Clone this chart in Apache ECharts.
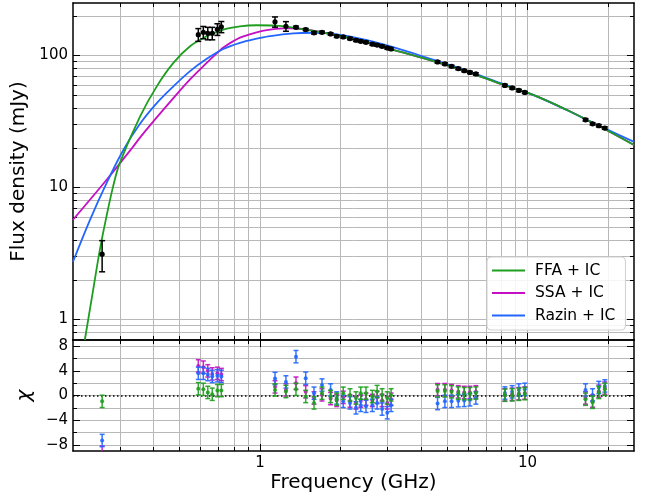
<!DOCTYPE html>
<html><head><meta charset="utf-8">
<script src="https://cdn.jsdelivr.net/npm/echarts@6/dist/echarts.min.js"></script>
<style>html,body{margin:0;padding:0;background:#fff}#c{width:645px;height:500px}</style>
</head><body><div id="c"></div>
<script>
// ---------- data ----------
const obsFreq = [0.257,
  0.588, 0.614, 0.638, 0.663, 0.693, 0.717,
  1.138, 1.25, 1.363, 1.482, 1.592, 1.705, 1.836, 1.935, 2.047, 2.17, 2.284, 2.38, 2.49, 2.63, 2.74, 2.86, 2.99, 3.09,
  4.61, 4.91, 5.20, 5.51, 5.80, 6.09, 6.41,
  8.23, 8.76, 9.28, 9.77,
  16.47, 17.5, 18.47, 19.45];
const obsFlux = [3.13,
  144, 150, 147.5, 147.5, 158, 165,
  180, 166.6, 163.7, 157.3, 148.5, 150, 145.9, 140, 138.4, 134.4, 130.5, 128.2, 126, 122, 120, 117.5, 114.2, 112.2,
  89.4, 86.4, 82.8, 79.6, 76.8, 74.5, 72.5,
  59.4, 56.8, 54.4, 52.5,
  32.6, 30.4, 29.4, 28.2];
const obsErr = [0.83,
  16, 16, 16, 16, 16, 16,
  16, 14, 3.3, 3.1, 3.0, 3.0, 2.9, 2.8, 2.8, 2.7, 2.6, 2.6, 2.5, 2.4, 2.4, 2.4, 2.3, 2.2,
  1.8, 1.7, 1.7, 1.6, 1.5, 1.5, 1.5,
  1.2, 1.1, 1.1, 1.0,
  0.7, 0.6, 0.6, 0.6];

const ffaFreq = [0.2214, 0.2378, 0.2519, 0.2667, 0.2825, 0.299, 0.356, 0.4113, 0.4745, 0.5477, 0.6323, 0.7293, 0.842, 0.972, 1.15, 1.331, 1.775, 2.364, 3.147, 4.196, 5.92, 7.88, 10.49, 13.99, 18.62, 25];
const ffaFlux = [0.70, 1.67, 3.36, 6.02, 10.2, 15.3, 34.5, 58.4, 87.9, 117.5, 139.9, 157.3, 166.6, 169.6, 168.7, 162.5, 147.5, 129.5, 110.5, 94, 75.5, 61.3, 50.3, 38.8, 29.0, 21.0];

const ssaFreq = [0.2, 0.2667, 0.3305, 0.356, 0.4113, 0.4745, 0.5477, 0.6323, 0.695, 0.7293, 0.842, 0.972, 1.074, 1.222, 1.331, 1.592, 1.775, 2.364, 3.147, 4.196, 5.92, 7.88, 10.49, 13.99, 18.62, 25];
const ssaFlux = [5.7, 11.4, 19.6, 23.9, 34.0, 47.6, 66, 87.9, 105.5, 115, 136.5, 150, 156.5, 160.5, 161, 154, 147.5, 129.5, 110.5, 94, 75.5, 61.3, 50.3, 38.8, 29.0, 21.0];

const razinFreq = [0.2, 0.2311, 0.2667, 0.3078, 0.356, 0.4113, 0.4745, 0.5477, 0.6323, 0.7293, 0.842, 0.972, 1.074, 1.331, 1.592, 1.775, 2.364, 3.147, 4.196, 5.92, 7.88, 10.49, 13.99, 18.62, 25];
const razinFlux = [2.74, 5.65, 10.77, 19.1, 30.4, 43.6, 58.4, 76.2, 94.5, 112.1, 124.8, 134.1, 139.6, 147.3, 148.8, 148, 134.5, 116, 96.5, 76.8, 62, 50.3, 38.7, 29.2, 22.2];

const chiFFA = [-0.95,
  1.1, 1.0, 0.5, 0.2, 0.8, 0.8,
  0.9, 0.64, 1.0, -0.16, -1.2, 0.37, -0.16, -0.6, 0.37, 0.1, -0.4, 0.37, 0.37, -0.16, 0.64, 0.1, -0.4, 0.1,
  0.75, 0.75, 0.6, 0.4, 0.3, 0.3, 0.4,
  0.05, 0.1, 0.2, 0.3,
  -0.6, -1.1, 0.5, 1.0];
const chiSSA = [-9.2,
  4.8, 4.6, 4.0, 3.5, 3.6, 3.4,
  1.4, 0.9, 2.0, 0.6, -0.4, 0.1, -0.5, -0.8, -0.3, -0.9, -1.2, -0.9, -0.6, -0.8, -0.3, -0.8, -1.2, -0.6,
  0.95, 0.95, 0.8, 0.6, 0.5, 0.5, 0.6,
  0.1, 0.2, 0.3, 0.4,
  -0.4, -0.9, 0.7, 1.2];
const chiRazin = [-7.3,
  3.6, 3.6, 3.4, 3.1, 3.2, 3.1,
  2.76, 2.2, 6.3, 2.8, 0.37, 1.7, 0.9, -0.4, -0.95, -1.2, -2.0, -1.6, -1.75, -1.6, -1.2, -2.2, -2.8, -1.6,
  -1.3, -0.95, -0.95, -0.85, -0.8, -0.7, -0.4,
  0.4, 0.6, 0.9, 1.0,
  0.9, 0.1, 1.3, 1.55];
const chiErr = 1;

const xMajorTicks = [1, 10];
const xMinorTicks = [0.3, 0.4, 0.5, 0.6, 0.7, 0.8, 0.9, 2, 3, 4, 5, 6, 7, 8, 9, 20];
const fluxMajorTicks = [1, 10, 100];
const fluxMinorTicks = [0.8, 0.9, 2, 3, 4, 5, 6, 7, 8, 9, 20, 30, 40, 50, 60, 70, 80, 90, 200];
const chiMajorTicks = [-8, -4, 0, 4, 8];
const chiMinorTicks = [-6, -2, 2, 6];

// ---------- styles ----------
const FONT = 'DejaVu Sans';
const GREEN = '#1e9e1e', MAGENTA = '#c40fc4', BLUE = '#2266ff';
const GRIDC = '#b8b8b8';
const X_MIN = 0.2, X_MAX = 25, F_MIN = 0.7, F_MAX = 250, C_MIN = -9, C_MAX = 9;

function ax(gridIndex, type, min, max, position, ticks, len, o) {
  o = o || {};
  const a = {
    gridIndex: gridIndex, type: type, min: min, max: max, position: position,
    axisLine: {show: !!o.line, onZero: false, lineStyle: {color: '#000', width: 1.5}},
    axisTick: {show: true, inside: true, length: len, customValues: ticks, lineStyle: {color: '#000', width: 1}},
    axisLabel: {show: false},
    splitLine: {show: !!o.grid, lineStyle: {color: GRIDC, width: 1}},
    minorTick: {show: false}, minorSplitLine: {show: false},
    silent: true
  };
  if (type === 'log') a.logBase = 10;
  if (o.label) {
    a.axisLabel = {show: true, customValues: ticks, color: '#000', fontFamily: FONT, fontSize: 15, margin: 5,
      formatter: function (v) { v = Math.round(v * 1000) / 1000; return v < 0 ? '\u2212' + Math.abs(v) : String(v); }};
  }
  if (o.name) {
    a.name = o.name; a.nameLocation = 'middle'; a.nameGap = o.nameGap;
    a.nameTextStyle = {color: '#000', fontFamily: FONT, fontSize: 20, fontStyle: o.italic ? 'italic' : 'normal'};
  }
  return a;
}

const xAxes = [
  ax(0, 'log', X_MIN, X_MAX, 'bottom', xMajorTicks, 7, {line: true, grid: true}),
  ax(0, 'log', X_MIN, X_MAX, 'bottom', xMinorTicks, 4, {grid: true}),
  ax(0, 'log', X_MIN, X_MAX, 'top', xMajorTicks, 7, {line: true}),
  ax(0, 'log', X_MIN, X_MAX, 'top', xMinorTicks, 4, {}),
  ax(1, 'log', X_MIN, X_MAX, 'bottom', xMajorTicks, 7, {line: true, grid: true, label: true, name: 'Frequency (GHz)', nameGap: 22}),
  ax(1, 'log', X_MIN, X_MAX, 'bottom', xMinorTicks, 4, {grid: true}),
  ax(1, 'log', X_MIN, X_MAX, 'top', xMajorTicks, 7, {line: true}),
  ax(1, 'log', X_MIN, X_MAX, 'top', xMinorTicks, 4, {})
];
const yAxes = [
  ax(0, 'log', F_MIN, F_MAX, 'left', fluxMajorTicks, 7, {line: true, grid: true, label: true, name: 'Flux density (mJy)', nameGap: 29}),
  ax(0, 'log', F_MIN, F_MAX, 'left', fluxMinorTicks, 4, {grid: true}),
  ax(0, 'log', F_MIN, F_MAX, 'right', fluxMajorTicks, 7, {line: true}),
  ax(0, 'log', F_MIN, F_MAX, 'right', fluxMinorTicks, 4, {}),
  ax(1, 'value', C_MIN, C_MAX, 'left', chiMajorTicks, 7, {line: true, grid: true, label: true, name: '\u03c7', nameGap: 33, italic: true}),
  ax(1, 'value', C_MIN, C_MAX, 'left', chiMinorTicks, 4, {grid: true}),
  ax(1, 'value', C_MIN, C_MAX, 'right', chiMajorTicks, 7, {line: true}),
  ax(1, 'value', C_MIN, C_MAX, 'right', chiMinorTicks, 4, {})
];

function errRender(color, capHalf, lw, r, alpha) {
  return function (params, api) {
    const x = api.value(0), y = api.value(1), lo = api.value(2), hi = api.value(3);
    const cs = params.coordSys;
    const top = cs.y, bot = cs.y + cs.height;
    const p = api.coord([x, y]);
    const a = api.coord([x, hi])[1], b = api.coord([x, lo])[1];
    const st = {stroke: color, lineWidth: lw, opacity: alpha};
    const ch = [];
    const ca = Math.max(top, Math.min(bot, a)), cb = Math.max(top, Math.min(bot, b));
    if (cb > ca) ch.push({type: 'line', shape: {x1: p[0], y1: ca, x2: p[0], y2: cb}, style: st});
    if (a >= top && a <= bot) ch.push({type: 'line', shape: {x1: p[0] - capHalf, y1: a, x2: p[0] + capHalf, y2: a}, style: st});
    if (b >= top && b <= bot) ch.push({type: 'line', shape: {x1: p[0] - capHalf, y1: b, x2: p[0] + capHalf, y2: b}, style: st});
    if (p[1] >= top && p[1] <= bot) ch.push({type: 'circle', shape: {cx: p[0], cy: p[1], r: r}, style: {fill: color, opacity: alpha}});
    return {type: 'group', children: ch};
  };
}

const zip = (xs, ys) => xs.map((x, i) => [x, ys[i]]);
const obsData = obsFreq.map((f, i) => [f, obsFlux[i], obsFlux[i] - obsErr[i], obsFlux[i] + obsErr[i]]);
const chiData = arr => obsFreq.map((f, i) => [f, arr[i], arr[i] - chiErr, arr[i] + chiErr]);

function curve(name, xs, ys, color, z) {
  return {type: 'line', name: name, xAxisIndex: 0, yAxisIndex: 0, data: zip(xs, ys),
    smooth: 0.35, showSymbol: false, symbol: 'none', clip: true, z: z, silent: true,
    lineStyle: {color: color, width: 1.8}, itemStyle: {color: color}};
}

const option = {
  animation: false,
  backgroundColor: '#fff',
  grid: [
    {left: 73, top: 3, width: 561, height: 337, outerBoundsMode: 'none', containLabel: false},
    {left: 73, top: 340, width: 561, height: 111, outerBoundsMode: 'none', containLabel: false}
  ],
  xAxis: xAxes,
  yAxis: yAxes,
  legend: {
    data: ['FFA + IC', 'SSA + IC', 'Razin + IC'],
    orient: 'vertical', left: 487, top: 257,
    icon: 'rect', itemWidth: 33, itemHeight: 2, itemGap: 5.5,
    padding: [5, 10, 6, 5],
    borderColor: '#d0d0d0', borderWidth: 1, borderRadius: 4,
    backgroundColor: 'rgba(255,255,255,0.85)',
    textStyle: {color: '#000', fontFamily: FONT, fontSize: 15.5, lineHeight: 17, padding: [0, 0, 0, 5]},
    selectedMode: false
  },
  series: [
    curve('SSA + IC', ssaFreq, ssaFlux, MAGENTA, 3),
    curve('Razin + IC', razinFreq, razinFlux, BLUE, 4),
    curve('FFA + IC', ffaFreq, ffaFlux, GREEN, 5),
    {type: 'custom', name: 'obs', xAxisIndex: 0, yAxisIndex: 0, data: obsData, z: 10, silent: true,
      renderItem: errRender('#000', 3, 1.5, 2.6, 1), encode: {x: 0, y: 1}},
    {type: 'line', name: 'zero', xAxisIndex: 4, yAxisIndex: 4, data: [], silent: true, z: 2,
      markLine: {silent: true, symbol: 'none', label: {show: false}, animation: false,
        lineStyle: {color: '#000', type: [1.5, 2.5], width: 1.5}, data: [{yAxis: 0}]}},
    {type: 'custom', name: 'chiSSA', xAxisIndex: 4, yAxisIndex: 4, data: chiData(chiSSA), z: 6, silent: true,
      renderItem: errRender(MAGENTA, 2.5, 1.5, 2, 0.9), encode: {x: 0, y: 1}},
    {type: 'custom', name: 'chiRazin', xAxisIndex: 4, yAxisIndex: 4, data: chiData(chiRazin), z: 7, silent: true,
      renderItem: errRender(BLUE, 2.5, 1.5, 2, 0.9), encode: {x: 0, y: 1}},
    {type: 'custom', name: 'chiFFA', xAxisIndex: 4, yAxisIndex: 4, data: chiData(chiFFA), z: 8, silent: true,
      renderItem: errRender(GREEN, 2.5, 1.5, 2, 0.9), encode: {x: 0, y: 1}}
  ]
};
const chart = echarts.init(document.getElementById('c'), null, {renderer: 'canvas'});
chart.setOption(option);
</script>
</body></html>
